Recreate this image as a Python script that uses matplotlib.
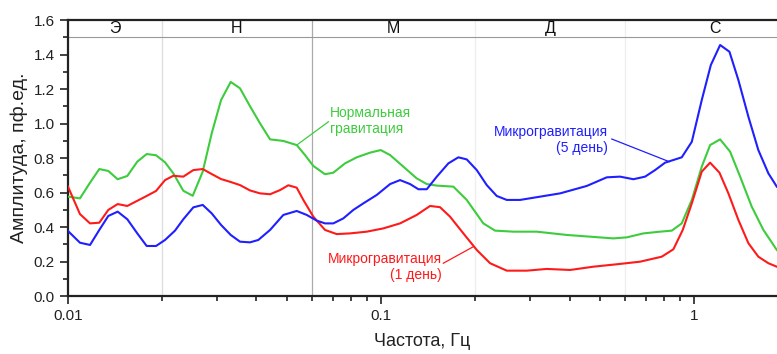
import matplotlib
matplotlib.use("Agg")
import matplotlib.pyplot as plt
from matplotlib.ticker import MultipleLocator, FormatStrFormatter, FixedLocator, FuncFormatter

plt.rcParams['font.family'] = ['Liberation Sans', 'DejaVu Sans']

# --- данные ---
# нормальная гравитация
freq_norm = [0.0100, 0.01092, 0.01176, 0.01259, 0.01345, 0.01441, 0.01547, 0.01665, 0.01784, 0.01911,
             0.02042, 0.02170, 0.02336, 0.02503, 0.02694, 0.02878, 0.03083, 0.03310, 0.03544, 0.03815,
             0.04106, 0.04421, 0.04874, 0.05378, 0.05717, 0.06077, 0.06623, 0.07040, 0.07674, 0.08362,
             0.09221, 0.09978, 0.1069, 0.1178, 0.1300, 0.1400, 0.1507, 0.1702, 0.1878, 0.2122,
             0.2313, 0.2647, 0.3144, 0.3920, 0.4653, 0.5523, 0.6095, 0.6887, 0.7786, 0.8486,
             0.9131, 0.9832, 1.058, 1.125, 1.211, 1.303, 1.403, 1.528, 1.665, 1.837]
amp_norm = [0.576, 0.566, 0.657, 0.736, 0.725, 0.677, 0.696, 0.779, 0.823, 0.816,
            0.775, 0.711, 0.610, 0.581, 0.721, 0.943, 1.136, 1.241, 1.204, 1.100,
            1.001, 0.908, 0.899, 0.875, 0.817, 0.754, 0.706, 0.715, 0.769, 0.804,
            0.831, 0.846, 0.817, 0.750, 0.682, 0.649, 0.640, 0.634, 0.557, 0.421,
            0.379, 0.373, 0.373, 0.354, 0.344, 0.334, 0.340, 0.363, 0.373, 0.379,
            0.421, 0.557, 0.750, 0.875, 0.908, 0.837, 0.692, 0.518, 0.383, 0.267]

# микрогравитация, 1 день
freq_mg1 = [0.0100, 0.01092, 0.01176, 0.01259, 0.01345, 0.01441, 0.01547, 0.01665, 0.01784, 0.01911,
            0.02042, 0.02170, 0.02336, 0.02514, 0.02694, 0.02878, 0.03083, 0.03310, 0.03544, 0.03815,
            0.04106, 0.04421, 0.04757, 0.05056, 0.05378, 0.05646, 0.06077, 0.06623, 0.07219, 0.07961,
            0.09000, 0.1017, 0.1150, 0.1300, 0.1434, 0.1543, 0.1661, 0.1832, 0.2022, 0.2230,
            0.2521, 0.2921, 0.3384, 0.4017, 0.4767, 0.5663, 0.6722, 0.7884, 0.8587, 0.9199,
            0.9832, 1.058, 1.125, 1.205, 1.287, 1.385, 1.491, 1.604, 1.727, 1.837]
amp_mg1 = [0.634, 0.475, 0.421, 0.425, 0.499, 0.533, 0.522, 0.552, 0.580, 0.609,
           0.672, 0.697, 0.692, 0.730, 0.736, 0.707, 0.678, 0.661, 0.643, 0.612,
           0.595, 0.590, 0.614, 0.642, 0.628, 0.557, 0.460, 0.383, 0.359, 0.363,
           0.373, 0.392, 0.421, 0.470, 0.522, 0.515, 0.460, 0.363, 0.267, 0.190,
           0.147, 0.147, 0.157, 0.151, 0.170, 0.184, 0.199, 0.228, 0.271, 0.383,
           0.537, 0.721, 0.773, 0.715, 0.595, 0.441, 0.306, 0.228, 0.190, 0.170]

# микрогравитация, 5 день
freq_mg5 = [0.0100, 0.01092, 0.01176, 0.01259, 0.01345, 0.01441, 0.01547, 0.01665, 0.01784, 0.01911,
            0.02042, 0.02197, 0.02336, 0.02514, 0.02694, 0.02878, 0.03083, 0.03310, 0.03544, 0.03815,
            0.04055, 0.04421, 0.04874, 0.05378, 0.05789, 0.06231, 0.06623, 0.07040, 0.07578, 0.08156,
            0.08778, 0.09690, 0.1069, 0.1150, 0.1238, 0.1316, 0.1400, 0.1507, 0.1641, 0.1766,
            0.1878, 0.2022, 0.2176, 0.2342, 0.2521, 0.2780, 0.3222, 0.3732, 0.4541, 0.5261,
            0.5802, 0.6399, 0.6973, 0.7505, 0.8078, 0.9131, 0.9832, 1.058, 1.131, 1.211,
            1.297, 1.385, 1.491, 1.604, 1.727, 1.837]
amp_mg5 = [0.377, 0.309, 0.296, 0.383, 0.464, 0.489, 0.445, 0.363, 0.290, 0.290,
           0.325, 0.379, 0.445, 0.514, 0.528, 0.479, 0.412, 0.354, 0.315, 0.311,
           0.325, 0.383, 0.470, 0.493, 0.470, 0.437, 0.421, 0.421, 0.450, 0.499,
           0.537, 0.586, 0.649, 0.672, 0.649, 0.619, 0.619, 0.692, 0.769, 0.804,
           0.792, 0.730, 0.643, 0.580, 0.557, 0.557, 0.576, 0.595, 0.638, 0.688,
           0.692, 0.677, 0.692, 0.730, 0.773, 0.804, 0.894, 1.136, 1.339, 1.455,
           1.416, 1.252, 1.039, 0.846, 0.711, 0.634]

# частотные диапазоны
band_edges = [0.01, 0.02, 0.06, 0.2, 0.6, 2.27]
band_names = ['Э', 'Н', 'М', 'Д', 'С']

green = '#3dcc3d'
red = '#ff1a1a'
blue = '#1f1fff'

# --- график ---
fig = plt.figure(figsize=(7.77, 3.54), dpi=100)
ax = fig.add_axes([0.0875, 0.1638, 0.9125, 0.7797])

ax.set_xscale('log')
ax.set_xlim(0.01, 1.84)
ax.set_ylim(0, 1.6)

# границы диапазонов
grid_colors = ['#dddddd', '#aaaaaa', '#eeeeee', '#eeeeee']
for edge, c in zip(band_edges[1:-1], grid_colors):
    ax.axvline(edge, color=c, lw=0.9, zorder=0)
ax.axhline(1.5, color='#999999', lw=0.8, zorder=1)

for i, name in enumerate(band_names):
    xc = (band_edges[i] * band_edges[i + 1]) ** 0.5
    ax.text(xc, 1.553, name, ha='center', va='center', fontsize=11.5, color='#111111')

ax.plot(freq_norm, amp_norm, color=green, lw=1.5, zorder=3)
ax.plot(freq_mg1, amp_mg1, color=red, lw=1.5, zorder=3)
ax.plot(freq_mg5, amp_mg5, color=blue, lw=1.5, zorder=4)

# подписи кривых
ax.text(0.0687, 1.013, 'Нормальная\nгравитация', color=green, fontsize=10,
        ha='left', va='center', multialignment='left')
ax.plot([0.0679, 0.05378], [1.010, 0.875], color=green, lw=0.9)

ax.text(0.5311, 0.904, 'Микрогравитация\n(5 день)', color=blue, fontsize=10,
        ha='right', va='center', multialignment='right')
ax.plot([0.5458, 0.832], [0.910, 0.779], color=blue, lw=0.9)

ax.text(0.1563, 0.167, 'Микрогравитация\n(1 день)', color=red, fontsize=10,
        ha='right', va='center', multialignment='right')
ax.plot([0.1581, 0.1972], [0.190, 0.286], color=red, lw=0.9)

# оси
ax.yaxis.set_major_locator(MultipleLocator(0.2))
ax.yaxis.set_minor_locator(MultipleLocator(0.1))
ax.yaxis.set_major_formatter(FormatStrFormatter('%.1f'))
ax.xaxis.set_major_locator(FixedLocator([0.01, 0.1, 1]))
ax.xaxis.set_major_formatter(FuncFormatter(lambda v, p: '{:g}'.format(v)))

ax.tick_params(which='both', direction='out', width=1.2, colors='#222222', labelsize=11)
ax.tick_params(which='major', length=6)
ax.tick_params(which='minor', length=3.5)

for side in ['left', 'bottom', 'top']:
    ax.spines[side].set_linewidth(1.6)
    ax.spines[side].set_color('#222222')
ax.spines['right'].set_visible(False)

ax.set_xlabel('Частота, Гц', fontsize=13, labelpad=7, color='#222222')
ax.set_ylabel('Амплитуда, пф.ед.', fontsize=14, labelpad=4, color='#222222')

fig.savefig('out.png', dpi=100)
